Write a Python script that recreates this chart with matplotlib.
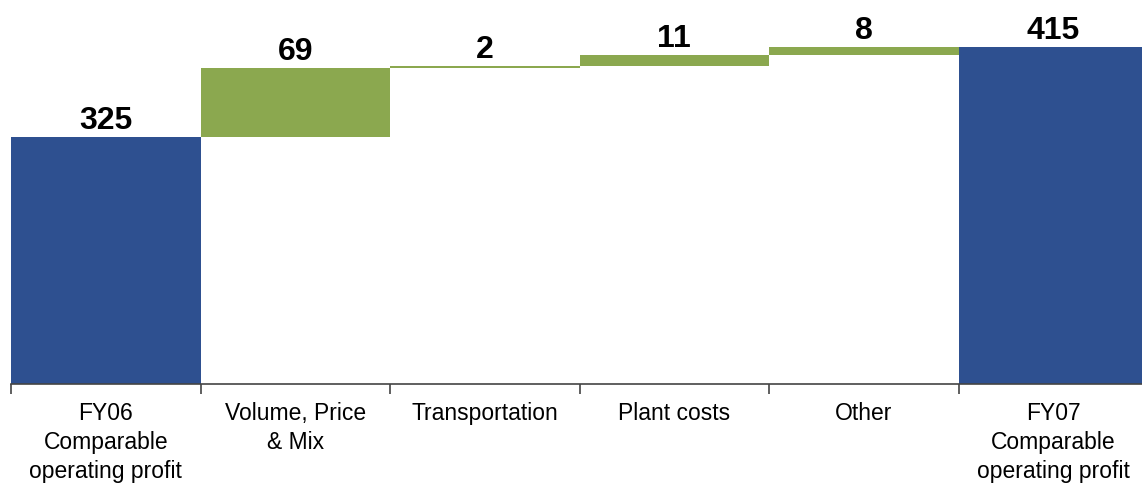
import matplotlib
matplotlib.use("Agg")
import matplotlib.pyplot as plt
import numpy as np

categories = ["FY06\nComparable\noperating profit", "Volume, Price\n& Mix", "Transportation",
              "Plant costs", "Other", "FY07\nComparable\noperating profit"]
start_total = 325
changes = [69, 2, 11, 8]
end_total = 415
labels = ["325", "69", "2", "11", "8", "415"]

blue = "#2E5090"
green = "#8BA84F"

plt.rcParams['font.family'] = ['Liberation Sans', 'DejaVu Sans']

fig = plt.figure(figsize=(11.42, 4.83), dpi=100)
ax = fig.add_axes([11/1142, 99/483, 1137/1142, 384/483])

ymin, ymax = 78, 462
x = np.arange(len(categories))

tops = []
bottoms = []
bottoms.append(ymin)
tops.append(start_total)
cum = start_total
for c in changes:
    bottoms.append(cum)
    cum += c
    tops.append(cum)
bottoms.append(ymin)
tops.append(end_total)

colors = [blue] + [green] * len(changes) + [blue]
heights = [t - b for t, b in zip(tops, bottoms)]
ax.bar(x, heights, bottom=bottoms, width=1.0, color=colors, edgecolor='none', linewidth=0)

for xi, t, lab in zip(x, tops, labels):
    ax.text(xi, t + 1.0, lab, ha='center', va='bottom', fontsize=23, fontweight='bold', color='black')

ax.set_xlim(-0.5, len(categories) - 0.5)
ax.set_ylim(ymin, ymax)

for s in ['top', 'right', 'left']:
    ax.spines[s].set_visible(False)
ax.spines['bottom'].set_color('#444444')
ax.spines['bottom'].set_linewidth(1.2)
ax.set_yticks([])

ax.set_xticks(x)
ax.set_xticklabels(categories, fontsize=16.5, linespacing=1.34)
ax.tick_params(axis='x', which='major', length=0, pad=13)
ax.set_xticks(np.arange(-0.5, len(categories) + 0.5, 1.0), minor=True)
ax.tick_params(axis='x', which='minor', length=7, width=1.2, color='#444444', direction='out')

fig.savefig("out.png", dpi=100)
